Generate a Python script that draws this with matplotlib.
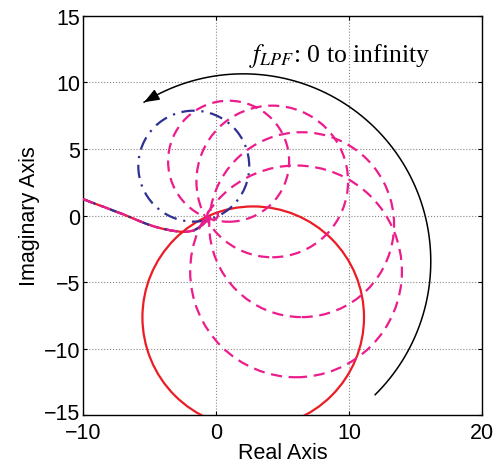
import numpy as np
import matplotlib
matplotlib.use('Agg')
import matplotlib.pyplot as plt
import matplotlib.transforms as mtransforms
from matplotlib.patches import Circle

# low-frequency tail shared by all curves
tail_x = [-10, -9.4, -8.8, -8.2, -7.7, -7.0, -6.4, -5.8, -5.2, -4.6, -4.0, -3.3, -2.7, -2.2, -1.7, -1.3, -0.95, -0.7, -0.45]
tail_y = [1.24, 1.0, 0.78, 0.56, 0.36, 0.1, -0.15, -0.4, -0.64, -0.84, -1.0, -1.14, -1.22, -1.22, -1.14, -0.92, -0.64, -0.4, -0.14]

# loop circles (center x, center y, radius)
red_circle = (2.8, -7.65, 8.33)
navy_circle = (-1.67, 3.71, 4.17)
mag_cx = [0.95, 4.23, 6.44, 6.02, -0.25]
mag_cy = [4.08, 2.56, -0.69, -4.2, 0.05]
mag_r = [4.55, 5.7, 6.95, 7.96, 0.4]

# f_LPF arrow arc
arc_cx, arc_cy, arc_r = 2.05, -3.45, 14.1
arc_t0, arc_t1 = -45.3, 121.9

xticks = [-10, 0, 10, 20]
yticks = [-15, -10, -5, 0, 5, 10, 15]

RED = '#ec1c24'
MAG = '#ec1c8c'
NAVY = '#2e3192'
DASH = (0, (5, 3))
DASHDOT = (0, (6, 3, 1, 3))

plt.rcParams['font.family'] = ['Liberation Sans', 'DejaVu Sans']
plt.rcParams['mathtext.fontset'] = 'stix'

fig = plt.figure(figsize=(4.99, 4.64), dpi=100)
ax = fig.add_axes([0.1663, 0.1034, 0.7996, 0.86])

ax.plot(tail_x, tail_y, color=RED, lw=1.6, zorder=3)
ax.plot(tail_x, tail_y, color=NAVY, lw=1.6, ls=DASHDOT, zorder=4)
ax.plot(tail_x, tail_y, color=MAG, lw=1.6, ls=DASH, zorder=5)

ax.add_patch(Circle(red_circle[:2], red_circle[2], fill=False, ec=RED, lw=1.6, zorder=3))
for cx, cy, r in zip(mag_cx, mag_cy, mag_r):
    ax.add_patch(Circle((cx, cy), r, fill=False, ec=MAG, lw=1.6, ls=DASH, zorder=5))
ax.add_patch(Circle(navy_circle[:2], navy_circle[2], fill=False, ec=NAVY, lw=1.6,
                    ls=DASHDOT, zorder=4))

t = np.radians(np.linspace(arc_t0, arc_t1, 200))
ax.plot(arc_cx + arc_r * np.cos(t), arc_cy + arc_r * np.sin(t), color='black', lw=1.1, zorder=6)
t_end = np.radians(arc_t1)
t_back = np.radians(arc_t1 - 4)
ax.annotate('', xy=(arc_cx + arc_r * np.cos(t_end), arc_cy + arc_r * np.sin(t_end)),
            xytext=(arc_cx + arc_r * np.cos(t_back), arc_cy + arc_r * np.sin(t_back)),
            arrowprops=dict(arrowstyle='-|>,head_length=0.9,head_width=0.35',
                            color='black', lw=1.1, shrinkA=0, shrinkB=0), zorder=6)

ax.text(2.5, 11.6, r'$f_{LPF}$: 0 to infinity', fontsize=18.5,
        family=['Liberation Serif', 'DejaVu Serif'], zorder=7)

ax.set_xlim(-10, 20)
ax.set_ylim(-15, 15)
ax.set_xticks(xticks)
ax.set_yticks(yticks)
ax.set_xticklabels(['\u2212' + str(-v) if v < 0 else str(v) for v in xticks])
ax.set_yticklabels(['\u2212' + str(-v) if v < 0 else str(v) for v in yticks])
ax.tick_params(direction='in', length=3, labelsize=15.5, top=True, right=True, pad=2)
ax.tick_params(axis='x', pad=5)
# nudge the bottom y label up so it sits just above the -10 x label
lab = ax.get_yticklabels()[0]
lab.set_transform(lab.get_transform() + mtransforms.ScaledTranslation(0, 3 / 72, fig.dpi_scale_trans))
ax.grid(True, ls=':', color='#888888', lw=0.8)
for s in ax.spines.values():
    s.set_linewidth(1.0)
ax.set_xlabel('Real Axis', fontsize=15.5, labelpad=-1)
ax.set_ylabel('Imaginary Axis', fontsize=15.5, labelpad=3)

fig.savefig('out.png', dpi=100)
